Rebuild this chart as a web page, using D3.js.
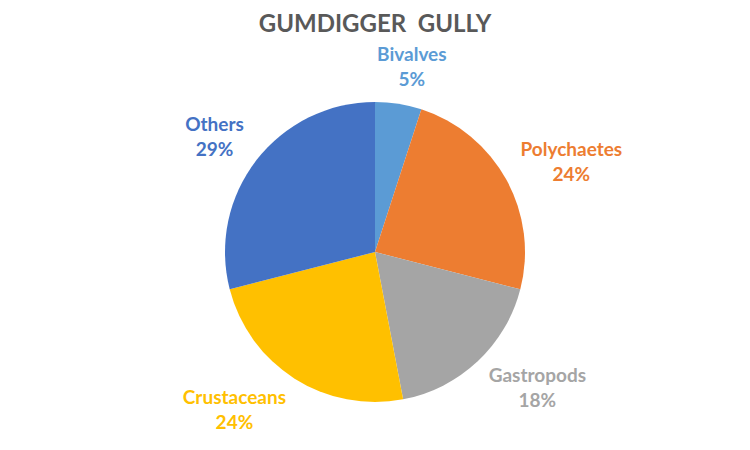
<!DOCTYPE html>
<html>
<head>
<meta charset="utf-8">
<script src="https://cdn.jsdelivr.net/npm/d3@7"></script>
<style>
    body { margin: 0; background: #fff; }
    text { font-family: Lato, "Open Sans", sans-serif; font-weight: bold; }
</style>
</head>
<body>
<div id="chart"></div>
<script>
// Data
const categories = ["Bivalves", "Polychaetes", "Gastropods", "Crustaceans", "Others"];
const shares = [5, 24, 18, 24, 29];
const colours = ["#5B9BD5", "#ED7D31", "#A5A5A5", "#FFC000", "#4472C4"];

const width = 750, height = 450;
const cx = 375, cy = 252, radius = 150;

const svg = d3.select("#chart")
    .append("svg")
    .attr("width", width)
    .attr("height", height);

svg.append("text")
    .attr("x", width / 2)
    .attr("y", 32)
    .attr("text-anchor", "middle")
    .attr("font-size", 24)
    .attr("fill", "#595959")
    .style("white-space", "pre")
    .text("GUMDIGGER  GULLY");

const data = categories.map((c, i) => ({ name: c, value: shares[i], colour: colours[i] }));

const pie = d3.pie()
    .value(d => d.value)
    .sort(null);

const arc = d3.arc()
    .innerRadius(0)
    .outerRadius(radius);

const g = svg.append("g")
    .attr("transform", `translate(${cx},${cy})`);

const arcs = pie(data);

g.selectAll("path")
    .data(arcs)
    .enter().append("path")
    .attr("d", arc)
    .attr("fill", d => d.data.colour);

const labels = g.selectAll(".label")
    .data(arcs)
    .enter().append("text")
    .attr("class", "label")
    .attr("text-anchor", "middle")
    .attr("font-size", 19)
    .attr("fill", d => d.data.colour);

labels.append("tspan")
    .attr("x", 0)
    .attr("dy", -6)
    .text(d => d.data.name);

labels.append("tspan")
    .attr("x", 0)
    .attr("dy", 25)
    .text(d => d.data.value + "%");

// push each label box out past the edge, along the slice's mid angle
const labelR = radius + 16, boxH = 42;
labels.attr("transform", function (d) {
    const a = (d.startAngle + d.endAngle) / 2;
    const w = this.getBBox().width;
    const s = Math.max(-1, Math.min(1, 2 * Math.sin(a)));
    const x = labelR * Math.sin(a) + s * w / 2;
    const y = -labelR * Math.cos(a) - Math.cos(a) * boxH / 2;
    return `translate(${x},${y})`;
});
</script>
</body>
</html>
